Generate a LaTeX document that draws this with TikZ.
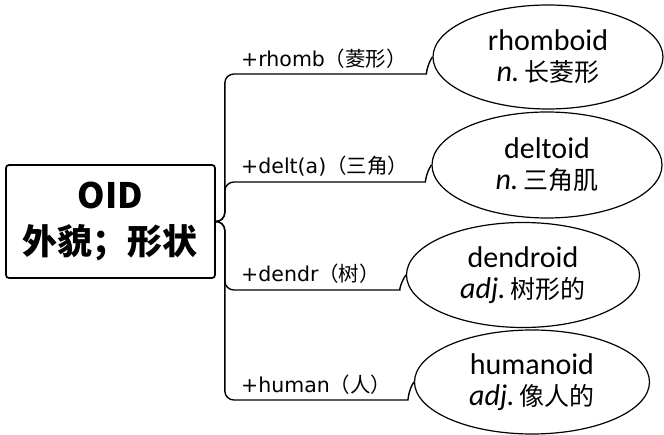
\documentclass[tikz,border=0pt]{standalone}
\usepackage{fontspec}
\setmainfont{Carlito}
\newfontfamily\cjk{Noto Sans CJK SC}
\newfontfamily\lblfont{DejaVu Sans}
\usetikzlibrary{shapes.geometric}
\newcommand{\zh}[1]{{\cjk\fontsize{25}{31}\selectfont #1}}
\newcommand{\zl}[1]{{\cjk #1}}
\tikzset{
  rootbox/.style={draw, line width=1.7pt, rounded corners=3pt, minimum width=209pt, minimum height=113pt, align=center, font=\cjk\bfseries\fontsize{35}{46}\selectfont},
  leaf/.style={draw, ellipse, line width=1.2pt, inner sep=0pt, align=center, font=\fontsize{30}{31}\selectfont},
  branch/.style={line width=1.4pt, rounded corners=9pt},
  lbl/.style={inner sep=0pt, anchor=base west, font=\lblfont\fontsize{20.5}{22}\selectfont},
}
\begin{document}
\begin{tikzpicture}[x=1pt,y=1pt]
	\useasboundingbox (0,0) rectangle (664,-435);
	\node[rootbox] (oid) at (110.5,-221.5) {OID\\外貌；形状};
	\node[leaf, minimum width=230pt, minimum height=104pt] (rhomboid) at (548,-57) {rhomboid\\\textit{n.}\,\zh{长菱形}};
	\node[leaf, minimum width=230pt, minimum height=106pt] (deltoid) at (547,-165) {deltoid\\\textit{n.}\,\zh{三角肌}};
	\node[leaf, minimum width=233pt, minimum height=105pt] (dendroid) at (523,-275) {dendroid\\\textit{adj.}\,\zh{树形的}};
	\node[leaf, minimum width=235pt, minimum height=104pt] (humanoid) at (532,-382) {humanoid\\\textit{adj.}\,\zh{像人的}};
	\coordinate (fork) at ([xshift=9pt]oid.east);
	% branches
	\draw[branch] (oid.east) -- (fork) |- ([xshift=-15pt,yshift=-17pt]rhomboid.west) to[out=0,in=235] (rhomboid.west);
	\draw[branch] (oid.east) -- (fork) |- ([xshift=-15pt,yshift=-17pt]deltoid.west) to[out=0,in=235] (deltoid.west);
	\draw[branch] (oid.east) -- (fork) |- ([xshift=-15pt,yshift=-15pt]dendroid.west) to[out=0,in=235] (dendroid.west);
	\draw[branch] (oid.east) -- (fork) |- ([xshift=-15pt,yshift=-18pt]humanoid.west) to[out=0,in=235] (humanoid.west);
	% labels
	\node[lbl] (rhomb) at (241,-67) {+rhomb\zl{（菱形）}};
	\node[lbl] (delt) at (241,-174) {+delt(a)\zl{（三角）}};
	\node[lbl] (dendr) at (241,-282) {+dendr\zl{（树）}};
	\node[lbl] (human) at (241,-392) {+human\zl{（人）}};
\end{tikzpicture}
\end{document}
